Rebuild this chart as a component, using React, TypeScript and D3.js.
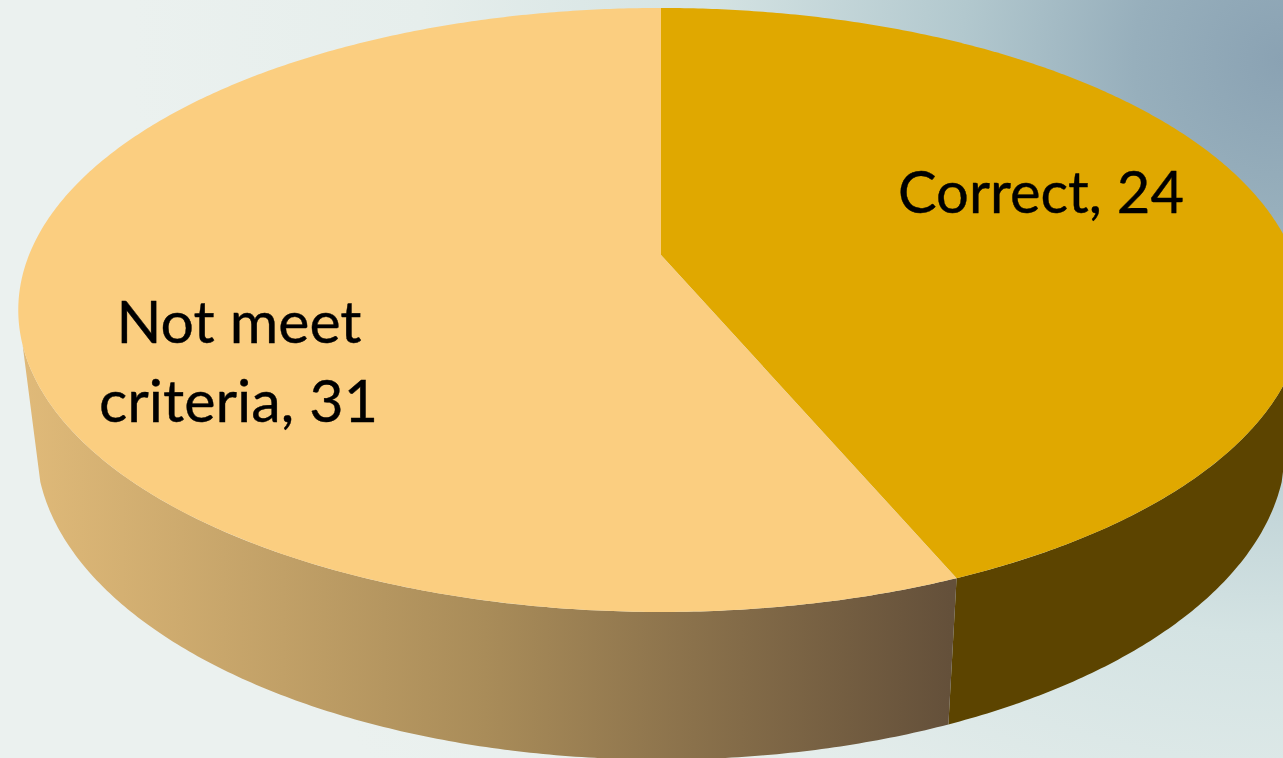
import React from "react";
import * as d3 from "d3";

const categories = ["Correct", "Not meet criteria"];
const values = [24, 31];
const topColors = ["#E0A800", "#FBCE80"];
const labelLines = [["Correct, 24"], ["Not meet", "criteria, 31"]];

const W = 1283;
const H = 758;
const CX = 661;
const K = -0.182;
const DEG = Math.PI / 180;

type Plane = { a: number; b: number; y0: number };
const topPlane: Plane = { a: 632, b: 292, y0: 255 };
const rimPlane: Plane = { a: 614.5, b: 304, y0: 388 };

// perspective projection of a point on the unit circle (angle clockwise from 12 o'clock)
const project = (p: Plane, t: number): [number, number] => {
  const u = Math.sin(t);
  const v = -Math.cos(t);
  const d = 1 + K * v;
  return [CX + (p.a * u) / d, p.y0 + (p.b * v) / d];
};

const arcPoints = (p: Plane, t0: number, t1: number): [number, number][] => {
  const n = Math.max(2, Math.ceil(Math.abs(t1 - t0) / (0.5 * DEG)));
  return d3.range(n + 1).map((i) => project(p, t0 + ((t1 - t0) * i) / n));
};

const line = d3.line<[number, number]>().x((d) => d[0]).y((d) => d[1]);

const arcs = d3.pie<number>().sort(null)(values);

// visible outer walls: front part of the pie between its two silhouette edges
const WALL_FROM = 107 * DEG;
const WALL_TO = 253 * DEG;

const topPath = (i: number) => {
  const a = arcs[i];
  const pts: [number, number][] = [[CX, topPlane.y0], ...arcPoints(topPlane, a.startAngle, a.endAngle)];
  return line(pts) + "Z";
};

const wallPath = (i: number) => {
  const a = arcs[i];
  const t0 = Math.max(a.startAngle, WALL_FROM);
  const t1 = Math.min(a.endAngle, WALL_TO);
  const pts = [...arcPoints(topPlane, t0, t1), ...arcPoints(rimPlane, t1, t0)];
  return line(pts) + "Z";
};

const labelSpec = [
  [{ x: 1041, y: 213, len: 286 }],
  [
    { x: 239, y: 343, len: 245 },
    { x: 238.5, y: 422, len: 279 },
  ],
];

export default function App() {
  return (
    <svg
      width={W}
      height={H}
      viewBox={`0 0 ${W} ${H}`}
      style={{ position: "fixed", left: 0, top: 0, display: "block" }}
    >
      <defs>
        <radialGradient id="bg" gradientUnits="userSpaceOnUse" cx={1283} cy={60} r={1150}>
          <stop offset="0" stopColor="#8AA2B3" />
          <stop offset="0.13" stopColor="#97AFBC" />
          <stop offset="0.28" stopColor="#B2C8CE" />
          <stop offset="0.5" stopColor="#D4E3E3" />
          <stop offset="0.75" stopColor="#E6EEEC" />
          <stop offset="1" stopColor="#EBF1EF" />
        </radialGradient>
        <linearGradient id="wallA" gradientUnits="userSpaceOnUse" x1={21} y1={0} x2={950} y2={0}>
          <stop offset="0" stopColor="#E0BA79" />
          <stop offset="0.5" stopColor="#A98C59" />
          <stop offset="1" stopColor="#64503A" />
        </linearGradient>
      </defs>
      <rect width={W} height={H} fill="url(#bg)" />
      {categories.map((c, i) => (
        <path key={c + "-wall"} d={wallPath(i)} fill={i === 0 ? "#5C4400" : "url(#wallA)"} />
      ))}
      {categories.map((c, i) => (
        <path key={c + "-top"} d={topPath(i)} fill={topColors[i]} />
      ))}
      {categories.map((c, i) =>
        labelLines[i].map((t, j) => (
          <text
            key={c + j}
            x={labelSpec[i][j].x}
            y={labelSpec[i][j].y}
            textAnchor="middle"
            fontFamily="Lato, sans-serif"
            fontSize={58}
            textLength={labelSpec[i][j].len}
            lengthAdjust="spacingAndGlyphs"
            fill="#000"
            stroke="#000"
            strokeWidth={0.4}
          >
            {t}
          </text>
        ))
      )}
    </svg>
  );
}
